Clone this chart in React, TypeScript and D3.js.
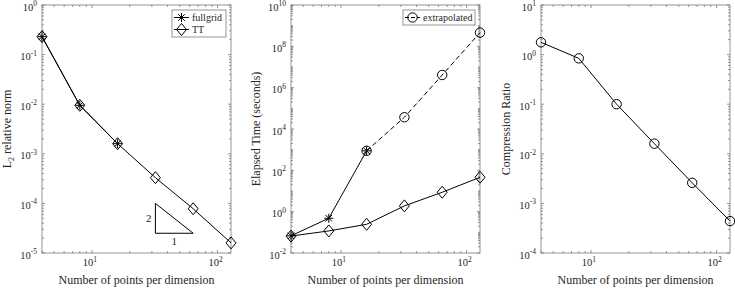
import { useEffect, useRef } from 'react'
import * as d3 from 'd3'

// points per dimension (x for every panel)
const points = [4, 8, 16, 32, 64, 128]

// panel 1: L2 relative error
const errFullgrid = [0.23, 0.0095, 0.0016]
const errTT = [0.23, 0.0095, 0.0016, 3.3e-4, 7.8e-5, 1.6e-5]

// panel 2: elapsed time (s)
const timeFullgrid = [0.068, 0.48, 880]
const extrapPoints = [16, 32, 64, 128]
const timeExtrap = [880, 37000, 4.1e6, 4.6e8]
const timeTT = [0.066, 0.117, 0.245, 1.9, 8.7, 46]

// panel 3: compression ratio
const ratioTT = [1.77, 0.84, 0.1, 0.016, 0.0026, 4.4e-4]

// slope triangle (x from, x to, y top, y bottom)
const slopeX = [32, 64]
const slopeY = [1e-4, 2.5e-5]

const W = 735
const H = 289
const FONT = '"Liberation Serif", "Times New Roman", serif'
const AXIS = '#7a7a7a'
const TXT = '#262626'

type Sel = d3.Selection<SVGGElement, unknown, null, undefined>

function minorTicks(lo: number, hi: number) {
  const out: number[] = []
  for (let e = Math.floor(Math.log10(lo)); e <= Math.ceil(Math.log10(hi)); e++) {
    for (let m = 1; m <= 9; m++) {
      const v = m * Math.pow(10, e)
      if (v >= lo * 0.999 && v <= hi * 1.001) out.push(v)
    }
  }
  return out
}

function powLabel(sel: d3.Selection<SVGTextElement, unknown, null, undefined>, exp: number) {
  sel.append('tspan').text('10')
  sel.append('tspan').attr('dy', -4.5).attr('font-size', 7.5).text(String(exp))
}

function panel(svg: d3.Selection<SVGSVGElement, unknown, null, undefined>, left: number, yDomain: [number, number], yStep: number, ylabel: string) {
  const top = 5
  const bottom = 253
  const right = left + 189
  const x = d3.scaleLog().domain([4, 128]).range([left, right])
  const y = d3.scaleLog().domain(yDomain).range([bottom, top])
  const g: Sel = svg.append('g')

  // minor + major ticks on all four sides
  const xMinor = minorTicks(4, 128)
  const yMinor = minorTicks(yDomain[0], yDomain[1])
  const e0 = Math.round(Math.log10(yDomain[0]))
  const e1 = Math.round(Math.log10(yDomain[1]))
  const yMajor: number[] = []
  for (let e = e0; e <= e1; e += yStep) yMajor.push(e)
  const xMajor = [1, 2]

  const ticks = g.append('g').attr('stroke', AXIS).attr('stroke-width', 0.8)
  xMinor.forEach(v => {
    const isMajor = xMajor.some(e => Math.abs(Math.pow(10, e) - v) < 1e-9)
    const len = isMajor ? 3 : 2
    ticks.append('line').attr('x1', x(v)).attr('x2', x(v)).attr('y1', bottom).attr('y2', bottom - len)
    ticks.append('line').attr('x1', x(v)).attr('x2', x(v)).attr('y1', top).attr('y2', top + len)
  })
  yMinor.forEach(v => {
    const isMajor = yMajor.some(e => Math.abs(Math.log10(v) - e) < 1e-9)
    const len = isMajor ? 3 : 2
    ticks.append('line').attr('x1', left).attr('x2', left + len).attr('y1', y(v)).attr('y2', y(v))
    ticks.append('line').attr('x1', right).attr('x2', right - len).attr('y1', y(v)).attr('y2', y(v))
  })

  g.append('rect')
    .attr('x', left).attr('y', top)
    .attr('width', right - left).attr('height', bottom - top)
    .attr('fill', 'none').attr('stroke', AXIS).attr('stroke-width', 0.8)

  // tick labels
  xMajor.forEach(e => {
    const t = g.append('text')
      .attr('x', x(Math.pow(10, e)) - 2).attr('y', 266)
      .attr('text-anchor', 'middle').attr('font-size', 10.5)
      .attr('fill', TXT).attr('font-family', FONT)
    powLabel(t, e)
  })
  yMajor.forEach(e => {
    const t = g.append('text')
      .attr('x', left - 5).attr('y', y(Math.pow(10, e)) + 5.5)
      .attr('text-anchor', 'end').attr('font-size', 10.5)
      .attr('fill', TXT).attr('font-family', FONT)
    powLabel(t, e)
  })

  g.append('text')
    .attr('x', (left + right) / 2).attr('y', 284)
    .attr('text-anchor', 'middle').attr('font-size', 12)
    .attr('fill', TXT).attr('font-family', FONT)
    .text('Number of points per dimension')

  const yl = g.append('text')
    .attr('transform', `translate(${left - 31},${(top + bottom) / 2}) rotate(-90)`)
    .attr('text-anchor', 'middle').attr('font-size', 12)
    .attr('fill', TXT).attr('font-family', FONT)
  if (ylabel === 'L2') {
    yl.append('tspan').text('L')
    yl.append('tspan').attr('dy', 3).attr('font-size', 8).text('2')
    yl.append('tspan').attr('dy', -3).text(' relative norm')
  } else {
    yl.text(ylabel)
  }

  return { g, x, y }
}

function marker(g: Sel, kind: string, cx: number, cy: number) {
  const m = g.append('g').attr('fill', 'none').attr('stroke', '#000').attr('stroke-width', 1)
  if (kind === 'diamond') {
    m.append('path').attr('d', `M${cx},${cy - 6}L${cx + 5},${cy}L${cx},${cy + 6}L${cx - 5},${cy}Z`)
  } else if (kind === 'circle') {
    m.append('circle').attr('cx', cx).attr('cy', cy).attr('r', 4.7)
  } else {
    const r = 4.5
    const d = r * 0.72
    m.append('path').attr('d',
      `M${cx - r},${cy}L${cx + r},${cy}M${cx},${cy - r}L${cx},${cy + r}` +
      `M${cx - d},${cy - d}L${cx + d},${cy + d}M${cx - d},${cy + d}L${cx + d},${cy - d}`)
  }
}

function series(g: Sel, x: d3.ScaleLogarithmic<number, number>, y: d3.ScaleLogarithmic<number, number>, xs: number[], ys: number[], kind: string, dashed = false) {
  const line = d3.line<number>().x((d, i) => x(xs[i])).y(d => y(d))
  g.append('path')
    .attr('d', line(ys))
    .attr('fill', 'none').attr('stroke', '#000').attr('stroke-width', 1)
    .attr('stroke-dasharray', dashed ? '5,3' : null)
  ys.forEach((v, i) => marker(g, kind, x(xs[i]), y(v)))
}

function legend(g: Sel, left: number, top: number, width: number, items: { label: string, kind: string, dashed?: boolean }[]) {
  const rowH = 12
  const height = items.length * rowH + 3
  g.append('rect')
    .attr('x', left).attr('y', top).attr('width', width).attr('height', height)
    .attr('fill', '#fff').attr('stroke', AXIS).attr('stroke-width', 0.8)
  items.forEach((it, i) => {
    const cy = top + 7.5 + i * rowH
    g.append('line')
      .attr('x1', left + 2).attr('x2', left + 17).attr('y1', cy).attr('y2', cy)
      .attr('stroke', '#000').attr('stroke-width', 1)
      .attr('stroke-dasharray', it.dashed ? '4,2' : null)
    marker(g, it.kind, left + 9.5, cy)
    g.append('text')
      .attr('x', left + 20).attr('y', cy + 3.5)
      .attr('font-size', 10).attr('fill', TXT).attr('font-family', FONT)
      .text(it.label)
  })
}

export default function App() {
  const svgRef = useRef<SVGSVGElement>(null)

  useEffect(() => {
    const svg = d3.select(svgRef.current as SVGSVGElement)
    svg.selectAll('*').remove()

    // panel 1
    const p1 = panel(svg, 42, [1e-5, 1], 1, 'L2')
    series(p1.g, p1.x, p1.y, points, errTT, 'diamond')
    series(p1.g, p1.x, p1.y, points, errFullgrid, 'star')
    const tri = [
      [slopeX[0], slopeY[0]],
      [slopeX[0], slopeY[1]],
      [slopeX[1], slopeY[1]],
    ]
    p1.g.append('path')
      .attr('d', d3.line<number[]>().x(d => p1.x(d[0])).y(d => p1.y(d[1]))(tri) + 'Z')
      .attr('fill', 'none').attr('stroke', '#000').attr('stroke-width', 1)
    const midY = Math.sqrt(slopeY[0] * slopeY[1])
    const midX = Math.sqrt(slopeX[0] * slopeX[1])
    p1.g.append('text')
      .attr('x', p1.x(slopeX[0]) - 4).attr('y', p1.y(midY) + 4)
      .attr('text-anchor', 'end').attr('font-size', 11).attr('fill', TXT).attr('font-family', FONT)
      .text('2')
    p1.g.append('text')
      .attr('x', p1.x(midX)).attr('y', p1.y(slopeY[1]) + 12)
      .attr('text-anchor', 'middle').attr('font-size', 11).attr('fill', TXT).attr('font-family', FONT)
      .text('1')
    legend(p1.g, 172, 10, 54, [
      { label: 'fullgrid', kind: 'star' },
      { label: 'TT', kind: 'diamond' },
    ])

    // panel 2
    const p2 = panel(svg, 291, [1e-2, 1e10], 2, 'Elapsed Time (seconds)')
    series(p2.g, p2.x, p2.y, extrapPoints, timeExtrap, 'circle', true)
    series(p2.g, p2.x, p2.y, points, timeTT, 'diamond')
    series(p2.g, p2.x, p2.y, points, timeFullgrid, 'star')
    legend(p2.g, 403, 10, 72, [
      { label: 'extrapolated', kind: 'circle', dashed: true },
    ])

    // panel 3
    const p3 = panel(svg, 541, [1e-4, 10], 1, 'Compression Ratio')
    series(p3.g, p3.x, p3.y, points, ratioTT, 'circle')
  }, [])

  return (
    <svg ref={svgRef} width={W} height={H}
      style={{ position: 'absolute', left: 0, top: 0, background: '#fff' }} />
  )
}
